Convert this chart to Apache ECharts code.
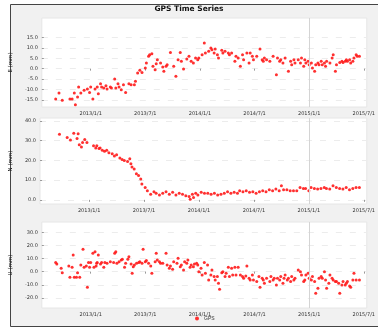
<!DOCTYPE html>
<html><head><meta charset="utf-8">
<script src="https://cdn.jsdelivr.net/npm/echarts@6/dist/echarts.min.js"></script>
<style>html,body{margin:0;padding:0;background:#fff}#c{width:378px;height:329px}</style>
</head><body><div id="c"></div>
<script>
const title = 'GPS Time Series';
const seriesName = 'GPS';
const xTicks = [2013.0, 2013.5, 2014.0, 2014.5, 2015.0, 2015.5];
const xTickLabels = ['2013/1/1', '2013/7/1', '2014/1/1', '2014/7/1', '2015/1/1', '2015/7/1'];
const eventTime = 2015.0;
const yNames = ['E (mm)', 'N (mm)', 'U (mm)'];
const yTicksEast = [15, 10, 5, 0, -5, -10, -15, -20];
const yTicksNorth = [40, 30, 20, 10, 0];
const yTicksUp = [30, 20, 10, 0, -10, -20];

const east = [
[2012.68,-14.6],[2012.71,-11.7],[2012.74,-15.2],[2012.81,-14.6],[2012.83,-14.6],[2012.85,-11.7],[2012.86,-17.3],[2012.88,-13.6],[2012.89,-8.8],[2012.91,-11.7],
[2012.94,-10.4],[2012.97,-9.8],[2012.99,-11.4],[2013.00,-8.8],[2013.02,-14.6],[2013.04,-9.8],[2013.06,-8.8],[2013.07,-12.0],[2013.09,-7.2],[2013.10,-8.8],
[2013.12,-9.3],[2013.14,-8.2],[2013.15,-9.8],[2013.18,-8.8],[2013.19,-9.3],[2013.22,-5.0],[2013.23,-9.3],[2013.25,-7.2],[2013.26,-8.8],[2013.28,-10.1],
[2013.30,-7.7],[2013.32,-11.4],[2013.35,-7.2],[2013.37,-7.7],[2013.40,-7.7],[2013.41,-6.1],[2013.43,-2.1],[2013.45,-0.8],[2013.47,-1.8],[2013.50,0.3],
[2013.51,2.7],[2013.53,5.9],[2013.54,6.7],[2013.56,7.2],[2013.57,1.1],[2013.59,-0.5],[2013.60,2.4],[2013.61,4.3],[2013.64,2.7],[2013.66,0.8],
[2013.67,-1.3],[2013.69,1.1],[2013.70,1.9],[2013.73,7.8],[2013.76,1.1],[2013.78,-3.7],[2013.80,4.3],[2013.82,7.8],[2013.83,3.5],[2013.85,-0.2],
[2013.88,4.6],[2013.90,5.9],[2013.92,3.5],[2013.94,2.7],[2013.96,5.1],[2013.98,4.3],[2013.99,5.1],[2014.02,6.7],[2014.04,12.3],[2014.05,7.5],
[2014.08,8.3],[2014.10,9.9],[2014.11,9.1],[2014.13,7.5],[2014.14,9.4],[2014.16,6.7],[2014.17,5.1],[2014.20,8.8],[2014.21,7.5],[2014.23,8.3],
[2014.26,7.5],[2014.27,6.7],[2014.29,7.5],[2014.32,3.5],[2014.33,5.9],[2014.35,5.1],[2014.37,1.1],[2014.39,6.7],[2014.40,4.3],[2014.43,7.5],
[2014.45,2.7],[2014.46,7.5],[2014.48,5.9],[2014.49,4.3],[2014.52,5.9],[2014.55,9.4],[2014.57,4.3],[2014.58,3.5],[2014.59,5.1],[2014.61,4.3],
[2014.64,3.5],[2014.67,5.9],[2014.70,-2.9],[2014.71,5.1],[2014.73,3.5],[2014.74,4.3],[2014.76,2.7],[2014.78,5.1],[2014.81,-1.3],[2014.83,3.5],
[2014.84,1.9],[2014.86,4.3],[2014.87,2.7],[2014.90,4.3],[2014.92,2.7],[2014.93,5.1],[2014.95,1.1],[2014.96,4.3],[2014.97,2.7],[2014.99,3.5],
[2015.00,1.9],[2015.02,2.7],[2015.03,0.3],[2015.05,-1.3],[2015.06,1.9],[2015.08,2.7],[2015.09,1.9],[2015.11,3.5],[2015.12,1.9],[2015.14,2.7],
[2015.15,1.1],[2015.16,3.5],[2015.19,2.7],[2015.21,5.1],[2015.22,6.7],[2015.24,-1.3],[2015.25,1.9],[2015.28,3.0],[2015.30,3.5],[2015.31,3.0],
[2015.33,3.5],[2015.34,4.3],[2015.35,3.5],[2015.37,4.3],[2015.38,2.7],[2015.40,3.5],[2015.41,5.1],[2015.43,6.7],[2015.44,5.9],[2015.46,5.9]
];

const north = [
[2012.73,33.2],[2012.80,31.6],[2012.83,30.4],[2012.86,33.8],[2012.89,31.1],[2012.90,33.5],[2012.91,28.0],[2012.93,26.8],[2012.94,29.1],[2012.96,30.6],
[2012.98,29.1],[2013.04,27.4],[2013.06,26.3],[2013.07,27.4],[2013.09,26.0],[2013.10,26.3],[2013.12,25.1],[2013.14,24.6],[2013.16,25.1],[2013.18,23.9],
[2013.21,23.4],[2013.23,22.2],[2013.25,22.9],[2013.28,21.2],[2013.30,20.5],[2013.32,20.0],[2013.35,19.5],[2013.37,20.9],[2013.38,18.3],[2013.39,16.6],
[2013.41,15.7],[2013.43,13.2],[2013.45,12.3],[2013.47,10.6],[2013.48,8.0],[2013.51,6.3],[2013.53,4.6],[2013.56,2.9],[2013.59,4.1],[2013.61,3.4],
[2013.64,2.4],[2013.67,3.4],[2013.70,4.1],[2013.73,2.9],[2013.76,3.8],[2013.79,2.4],[2013.82,3.4],[2013.85,2.9],[2013.88,2.1],[2013.91,1.7],
[2013.92,0.3],[2013.94,2.9],[2013.95,1.2],[2013.97,3.4],[2013.99,2.4],[2014.02,3.8],[2014.05,3.4],[2014.08,3.4],[2014.11,2.9],[2014.14,3.4],
[2014.17,2.4],[2014.20,2.9],[2014.23,3.4],[2014.26,4.1],[2014.29,3.4],[2014.32,3.8],[2014.35,3.4],[2014.37,4.6],[2014.40,4.1],[2014.43,4.6],
[2014.46,3.8],[2014.49,4.1],[2014.52,3.4],[2014.55,4.1],[2014.58,4.6],[2014.61,4.1],[2014.64,5.1],[2014.67,4.6],[2014.70,5.5],[2014.73,4.6],
[2014.75,7.2],[2014.77,5.1],[2014.80,5.1],[2014.83,4.6],[2014.86,4.6],[2014.89,4.6],[2014.92,6.3],[2014.95,5.8],[2014.97,5.8],[2015.00,4.6],
[2015.02,6.3],[2015.05,5.8],[2015.08,5.5],[2015.11,5.8],[2015.14,6.3],[2015.16,5.8],[2015.19,5.5],[2015.22,7.2],[2015.25,6.3],[2015.28,5.8],
[2015.31,5.5],[2015.34,6.3],[2015.37,5.1],[2015.40,5.8],[2015.43,6.3],[2015.46,6.3]
];

const up = [
[2012.68,6.9],[2012.69,5.8],[2012.73,2.5],[2012.74,-0.8],[2012.80,4.3],[2012.81,-4.3],[2012.83,3.3],[2012.84,12.7],[2012.85,-4.3],[2012.87,-4.3],
[2012.88,-0.8],[2012.90,-4.3],[2012.91,5.1],[2012.93,17.0],[2012.94,3.3],[2012.96,4.3],[2012.97,-11.9],[2012.98,6.9],[2012.99,3.3],[2013.00,6.9],
[2013.02,14.0],[2013.03,3.3],[2013.04,15.2],[2013.05,4.3],[2013.055,6.3],[2013.06,6.9],[2013.07,12.7],[2013.09,5.8],[2013.10,6.9],[2013.12,3.3],
[2013.13,6.9],[2013.15,6.3],[2013.18,7.6],[2013.21,6.9],[2013.22,14.0],[2013.23,15.2],[2013.24,6.3],[2013.26,7.6],[2013.28,8.9],[2013.29,9.4],
[2013.31,3.3],[2013.32,6.3],[2013.34,9.4],[2013.35,11.4],[2013.37,5.8],[2013.38,-1.3],[2013.39,3.8],[2013.40,5.1],[2013.42,6.3],[2013.44,6.9],
[2013.45,7.6],[2013.47,6.3],[2013.48,17.0],[2013.50,7.6],[2013.51,8.4],[2013.53,6.3],[2013.55,4.3],[2013.56,-1.3],[2013.59,7.6],[2013.60,14.0],
[2013.61,8.9],[2013.63,7.6],[2013.64,6.3],[2013.66,6.3],[2013.69,14.0],[2013.70,5.1],[2013.72,2.5],[2013.73,4.3],[2013.75,1.8],[2013.76,7.6],
[2013.79,6.3],[2013.80,10.2],[2013.82,3.8],[2013.83,5.1],[2013.85,1.3],[2013.86,7.6],[2013.88,6.3],[2013.89,8.9],[2013.91,3.3],[2013.92,5.1],
[2013.94,3.8],[2013.95,5.8],[2013.97,6.3],[2013.98,5.1],[2013.99,0.0],[2014.01,2.5],[2014.02,-2.5],[2014.04,6.9],[2014.05,-1.3],[2014.07,5.1],
[2014.08,-6.3],[2014.10,-2.5],[2014.11,1.3],[2014.13,-3.8],[2014.14,-6.3],[2014.16,-3.8],[2014.17,-8.9],[2014.18,-13.5],[2014.20,-0.8],[2014.21,0.0],
[2014.23,-3.8],[2014.24,-1.3],[2014.26,3.3],[2014.27,-3.8],[2014.29,2.5],[2014.30,-2.5],[2014.32,3.3],[2014.33,-2.5],[2014.35,3.3],[2014.37,-2.5],
[2014.39,-3.8],[2014.40,-5.1],[2014.42,-3.3],[2014.43,4.3],[2014.45,-5.1],[2014.46,-6.3],[2014.48,-2.5],[2014.49,-6.3],[2014.52,-7.6],[2014.54,-3.8],
[2014.55,-11.9],[2014.57,-5.1],[2014.58,-6.3],[2014.59,-8.9],[2014.61,-5.1],[2014.64,-7.6],[2014.65,-3.8],[2014.67,-6.3],[2014.68,-5.1],[2014.70,-10.2],
[2014.71,-5.1],[2014.73,-6.3],[2014.74,-3.8],[2014.76,-8.9],[2014.77,-5.1],[2014.78,-2.5],[2014.80,-6.3],[2014.81,-5.1],[2014.83,-7.6],[2014.84,-3.8],
[2014.86,-6.3],[2014.87,-5.1],[2014.90,1.3],[2014.92,0.0],[2014.93,-2.5],[2014.95,-7.6],[2014.96,-6.3],[2014.97,-2.5],[2014.99,-1.3],[2015.00,-5.1],
[2015.02,-6.3],[2015.03,-3.8],[2015.05,-7.6],[2015.06,-16.5],[2015.08,-12.7],[2015.09,-5.1],[2015.11,-3.8],[2015.12,-5.1],[2015.14,0.0],[2015.15,-6.3],
[2015.16,-12.7],[2015.18,-8.9],[2015.19,-2.5],[2015.21,-5.1],[2015.22,-6.3],[2015.24,-7.6],[2015.25,-7.6],[2015.27,-8.9],[2015.28,-16.5],[2015.30,-10.2],
[2015.31,-7.6],[2015.33,-10.2],[2015.34,-8.9],[2015.35,-7.6],[2015.37,-10.9],[2015.38,-11.9],[2015.40,-6.3],[2015.41,-1.3],[2015.43,-6.3],[2015.46,-6.3]
];

const xRange = [2012.553, 2015.527];
const yRanges = [[-18.4, 24.3], [-2.1, 41.5], [-27.7, 37.8]];

const chart = echarts.init(document.getElementById('c'), null, {renderer: 'canvas'});
const grids = [
  {left: 39, right: 0, top: 18, height: 89},
  {left: 39, right: 0, top: 118, height: 86},
  {left: 39, right: 0, top: 222, height: 86}
].map(g => Object.assign(g, {show: true, backgroundColor: '#ffffff', borderColor: '#e6e6e6', borderWidth: 1}));

const labelFont = {fontSize: 5, color: '#333', fontFamily: 'DejaVu Sans'};
const xAxes = [0, 1, 2].map(i => ({
  type: 'value', gridIndex: i, min: xRange[0], max: xRange[1],
  axisLine: {show: false},
  axisTick: {show: true, length: 2, lineStyle: {color: '#999'}, customValues: xTicks},
  axisLabel: Object.assign({margin: 4, customValues: xTicks,
    formatter: v => { const k = xTicks.findIndex(t => Math.abs(t - v) < 1e-6); return k >= 0 ? xTickLabels[k] : ''; }}, labelFont),
  splitLine: {show: false}
}));
const yTickSets = [yTicksEast, yTicksNorth, yTicksUp];
const yAxes = [0, 1, 2].map(i => ({
  type: 'value', gridIndex: i, min: yRanges[i][0], max: yRanges[i][1],
  name: yNames[i], nameLocation: 'middle', nameGap: 22, nameRotate: 90,
  nameTextStyle: {fontSize: 5.5, color: '#222', fontFamily: 'DejaVu Sans'},
  axisLine: {show: false},
  axisTick: {show: true, length: 2, inside: true, lineStyle: {color: '#999'}, customValues: yTickSets[i]},
  axisLabel: Object.assign({margin: 4, customValues: yTickSets[i], formatter: v => v.toFixed(1)}, labelFont),
  splitLine: {show: true, lineStyle: {color: '#ececec', type: [6, 8], width: 1}}
}));
const datasets = [east, north, up];
const series = datasets.map((d, i) => ({
  name: seriesName, type: 'scatter', xAxisIndex: i, yAxisIndex: i, data: d,
  symbol: 'circle', symbolSize: 3, itemStyle: {color: '#ff1a1a', opacity: 0.9},
  markLine: {silent: true, symbol: 'none', label: {show: false},
    lineStyle: {color: '#d4d4d4', type: 'solid', width: 1}, data: [{xAxis: eventTime}]}
}));

chart.setOption({
  animation: false,
  backgroundColor: '#ffffff',
  graphic: [{type: 'rect', z: -10, shape: {x: 10.5, y: 4.5, width: 380, height: 322},
    style: {fill: '#f1f1f1', stroke: '#444', lineWidth: 1}}],
  title: {text: title, left: 'center', top: 5, padding: 0,
    textStyle: {fontSize: 7.5, fontWeight: 'bold', color: '#111', fontFamily: 'DejaVu Sans'}},
  legend: {bottom: 3, left: 190, itemWidth: 4, itemHeight: 4, itemGap: 4,
    textStyle: {fontSize: 5, color: '#333'}, data: [{name: seriesName, icon: 'circle'}]},
  grid: grids, xAxis: xAxes, yAxis: yAxes, series: series
});
</script></body></html>
